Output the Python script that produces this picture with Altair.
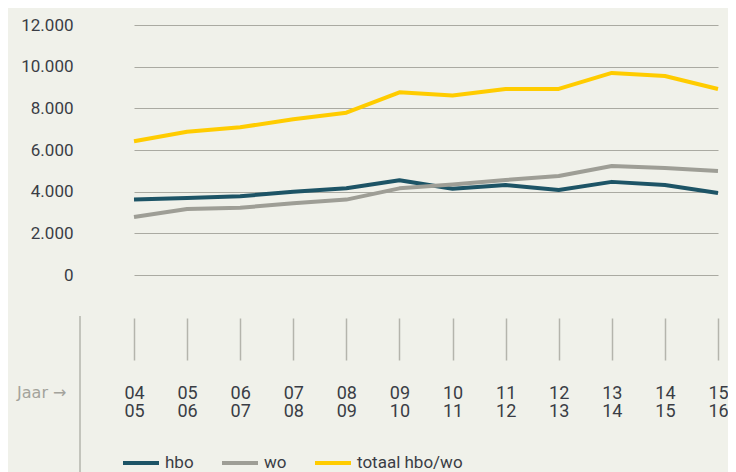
import altair as alt
import pandas as pd

years = ["04/05", "05/06", "06/07", "07/08", "08/09", "09/10",
         "10/11", "11/12", "12/13", "13/14", "14/15", "15/16"]
hbo = [3620, 3700, 3780, 4000, 4160, 4550, 4140, 4320, 4080, 4470, 4320, 3940]
wo = [2780, 3170, 3230, 3440, 3620, 4160, 4340, 4560, 4750, 5230, 5140, 4990]
totaal = [6420, 6880, 7090, 7480, 7790, 8770, 8620, 8930, 8930, 9700, 9550, 8930]

series_names = ["hbo", "wo", "totaal hbo/wo"]
series_colors = ["#1d5466", "#9e9e96", "#ffcc00"]
y_ticks = [0, 2000, 4000, 6000, 8000, 10000, 12000]

rows = []
for name, vals in zip(series_names, [hbo, wo, totaal]):
    for yr, v in zip(years, vals):
        rows.append({"jaar": yr, "serie": name, "waarde": v})
df = pd.DataFrame(rows)

FONT = "Roboto"
W, H = 624, 447

x_enc = alt.X(
    "jaar:O",
    sort=years,
    scale=alt.Scale(type="point", range=[30, 614], padding=0),
    axis=alt.Axis(
        orient="bottom",
        offset=-154,
        domain=False,
        grid=False,
        ticks=True,
        tickSize=42,
        tickColor="#b4b4ac",
        tickWidth=1.5,
        labelAngle=0,
        labelExpr="split(datum.label, '/')",
        labelFontSize=18,
        labelLineHeight=18,
        labelColor="#3a3d45",
        labelFont=FONT,
        labelPadding=24,
        labelBaseline="top",
        title="Jaar \u2192",
        titleFont="DejaVu Sans",
        titleFontSize=16,
        titleFontWeight="normal",
        titleColor="#a3a39b",
        titleX=-38,
        titleY=74,
        titleAlign="right",
        titleBaseline="middle",
        titleAngle=0,
    ),
)

y_enc = alt.Y(
    "waarde:Q",
    scale=alt.Scale(domain=[-9456, 12000], nice=False, zero=False),
    axis=alt.Axis(
        values=y_ticks,
        labelExpr="replace(format(datum.value, ','), ',', '.')",
        domain=False,
        ticks=False,
        grid=True,
        gridColor="#aaaaa2",
        gridWidth=1.2,
        labelFontSize=17,
        labelColor="#3a3d45",
        labelFont=FONT,
        labelPadding=31,
        title=None,
    ),
)

lines = alt.Chart(df).mark_line(strokeWidth=4, strokeJoin="round", clip=False).encode(
    x=x_enc,
    y=y_enc,
    color=alt.Color(
        "serie:N",
        sort=series_names,
        scale=alt.Scale(domain=series_names, range=series_colors),
        legend=alt.Legend(
            title=None,
            orient="none",
            legendX=17,
            legendY=418,
            direction="horizontal",
            symbolType="stroke",
            symbolSize=1296,
            symbolStrokeWidth=4,
            labelFontSize=17,
            labelFont=FONT,
            labelColor="#3a3d45",
            labelOffset=4,
            columnPadding=20,
        ),
    ),
)

sep = alt.Chart(pd.DataFrame({"a": [0]})).mark_rule(
    color="#b4b4ac", strokeWidth=1.5, clip=False
).encode(x=alt.value(-24), y=alt.value(291), y2=alt.value(H))

chart = alt.layer(lines, sep).properties(
    width=W,
    height=H,
    autosize=alt.AutoSizeParams(type="none"),
    padding={"left": 96, "top": 17, "right": 0, "bottom": 0},
    background="#f0f1ea",
).configure_view(stroke=None)

chart.save("out.html", embed_options={"renderer": "svg", "actions": False})
